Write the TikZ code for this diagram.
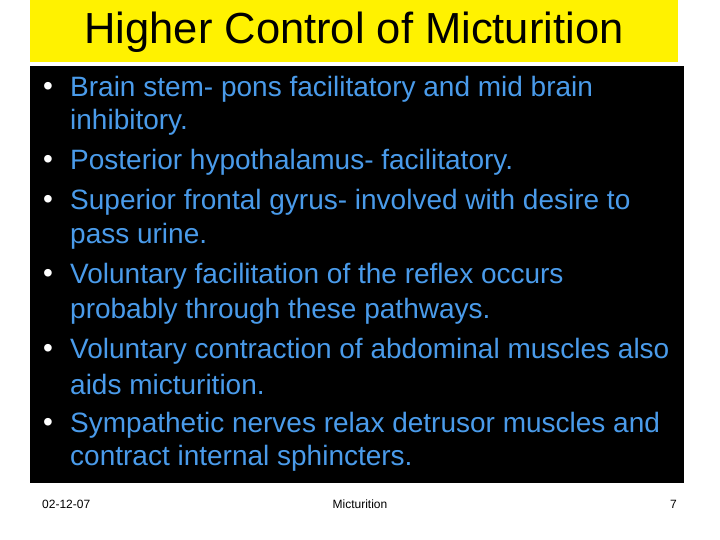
\documentclass[tikz,border=0pt]{standalone}
\usepackage{fontspec}
\setmainfont{Liberation Sans}
\begin{document}
\begin{tikzpicture}[x=1pt,y=-1pt]
\definecolor{bl}{HTML}{4A9BEA}
\tikzset{
  ln/.style={anchor=west,inner sep=0pt,text=bl,font=\fontsize{28}{30}\selectfont},
  bul/.style={anchor=center,inner sep=0pt,text=white,font=\fontsize{28}{30}\selectfont},
  foot/.style={inner sep=0pt,font=\fontsize{12}{14}\selectfont}}
\useasboundingbox[fill=white] (0,0) rectangle (720,540);
\fill[yellow] (30,0) rectangle (678,62);
\node[inner sep=0pt,font=\fontsize{43.5}{46}\selectfont] (title) at (354,32) {Higher Control of Micturition};
\fill[black] (30,66) rectangle (684,483);
\foreach \y/\t [count=\i] in {88/{Brain stem- pons facilitatory and mid brain},121/{inhibitory.},161/{Posterior hypothalamus- facilitatory.},201/{Superior frontal gyrus- involved with desire to},235/{pass urine.},275/{Voluntary facilitation of the reflex occurs},310/{probably through these pathways.},350/{Voluntary contraction of abdominal muscles also},383/{aids micturition.},424/{Sympathetic nerves relax detrusor muscles and},457/{contract internal sphincters.}}
  \node[ln] (l\i) at (70,\y+1) {\t};
\foreach \y [count=\i] in {88,161,201,275,350,424}
  \node[bul] (b\i) at (48,\y+1) {•};
\node[foot,anchor=west] (date) at (42,504) {02-12-07};
\node[foot] (mid) at (360,504) {Micturition};
\node[foot,anchor=east] (pg) at (677,504) {7};
\end{tikzpicture}
\end{document}
